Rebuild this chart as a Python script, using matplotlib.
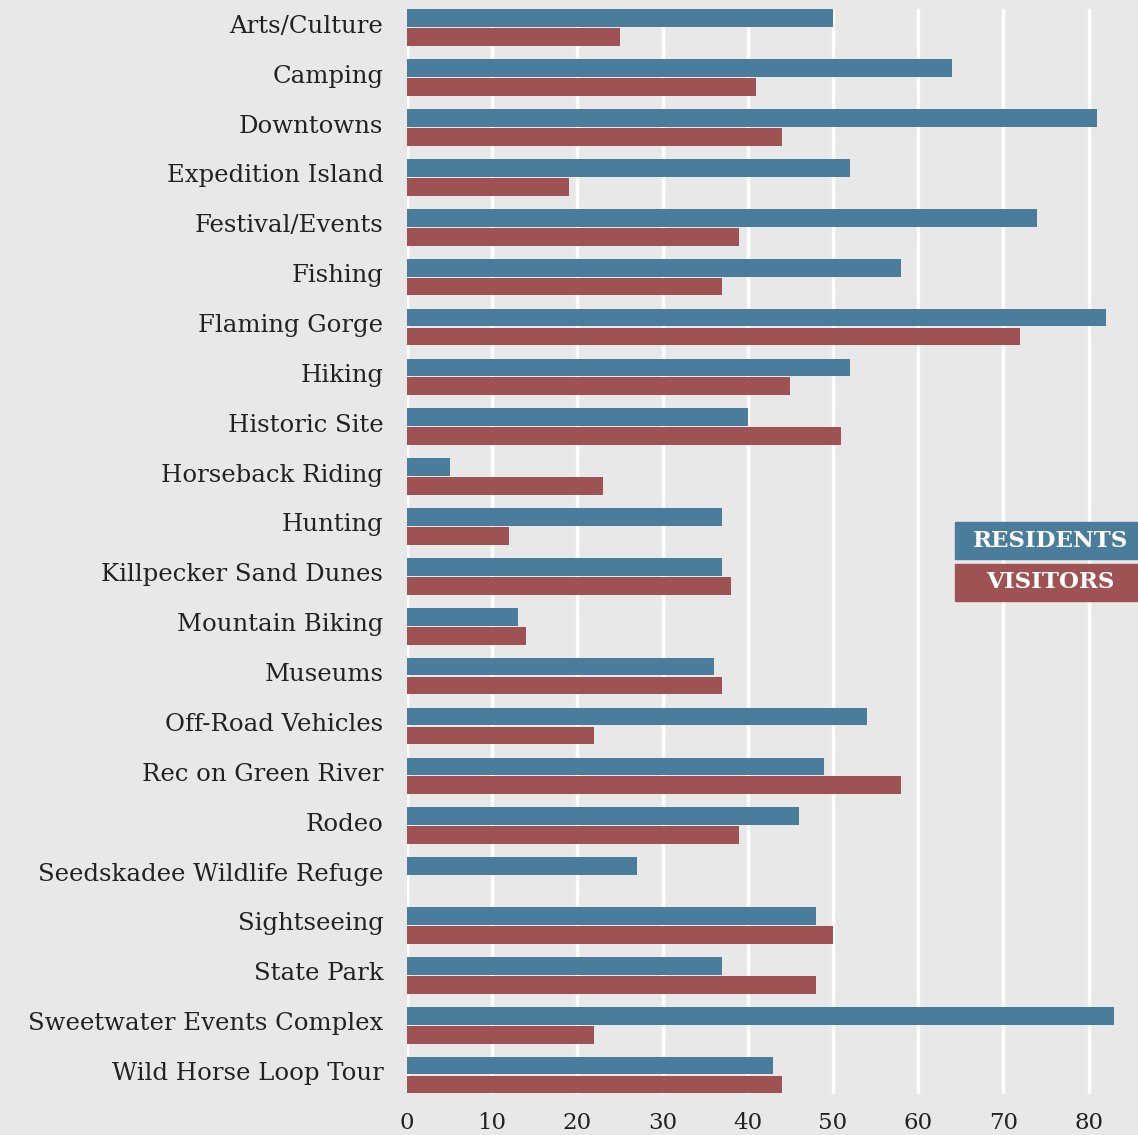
import numpy as np
import matplotlib.pyplot as plt
import matplotlib.transforms as mtransforms
from matplotlib.patches import Rectangle

# Data
categories = ["Arts/Culture", "Camping", "Downtowns", "Expedition Island",
              "Festival/Events", "Fishing", "Flaming Gorge", "Hiking",
              "Historic Site", "Horseback Riding", "Hunting",
              "Killpecker Sand Dunes", "Mountain Biking", "Museums",
              "Off-Road Vehicles", "Rec on Green River", "Rodeo",
              "Seedskadee Wildlife Refuge", "Sightseeing", "State Park",
              "Sweetwater Events Complex", "Wild Horse Loop Tour"]
residents = [50, 64, 81, 52, 74, 58, 82, 52, 40, 5, 37, 37, 13, 36, 54, 49, 46, 27, 48, 37, 83, 43]
visitors = [25, 41, 44, 19, 39, 37, 72, 45, 51, 23, 12, 38, 14, 37, 22, 58, 39, 0, 50, 48, 22, 44]
xticks = [0, 10, 20, 30, 40, 50, 60, 70, 80]

res_color = "#4a7c9b"
vis_color = "#9e5253"
bg = "#e8e8e8"

fig = plt.figure(figsize=(11.38, 11.35), dpi=100, facecolor=bg)
ax = fig.add_axes([0.3576, 0.0361, 0.6424, 0.9560], facecolor=bg)

y = np.arange(len(categories))
h = 0.355
ax.barh(y - 0.19, residents, height=h, color=res_color, zorder=3)
ax.barh(y + 0.19, visitors, height=h, color=vis_color, zorder=3)

ax.set_xlim(0, 85.8)
ax.set_ylim(len(categories) - 1 + 0.38, -0.377)

ax.set_xticks(xticks)
ax.set_xticklabels([str(t) for t in xticks], fontsize=16.5, family="DejaVu Serif", color="#222222")
ax.set_yticks(y)
ax.set_yticklabels(categories, fontsize=17.6, family="DejaVu Serif", color="#222222")
ax.tick_params(axis="x", length=0, pad=13)
ax.tick_params(axis="y", length=0, pad=17)
ax.grid(axis="x", color="white", linewidth=2.5, zorder=0)
ax.set_axisbelow(True)
for s in ax.spines.values():
    s.set_visible(False)

# nudge category labels up a little
shift = mtransforms.ScaledTranslation(0, 4 / 100, fig.dpi_scale_trans)
for lbl in ax.get_yticklabels():
    lbl.set_transform(lbl.get_transform() + shift)

# legend boxes at the right edge
W, H = 1138, 1135
for label, color, top in [("RESIDENTS", res_color, 522), ("VISITORS", vis_color, 564)]:
    fig.patches.append(Rectangle((955 / W, 1 - (top + 37) / H), 200 / W, 37 / H,
                                 transform=fig.transFigure, color=color, zorder=5))
    fig.text(1050 / W, 1 - (top + 18.5) / H, label, color="white", fontsize=16.5,
             fontweight="bold", family="DejaVu Serif", ha="center", va="center", zorder=6)

fig.savefig("out.png", dpi=100, facecolor=bg)
